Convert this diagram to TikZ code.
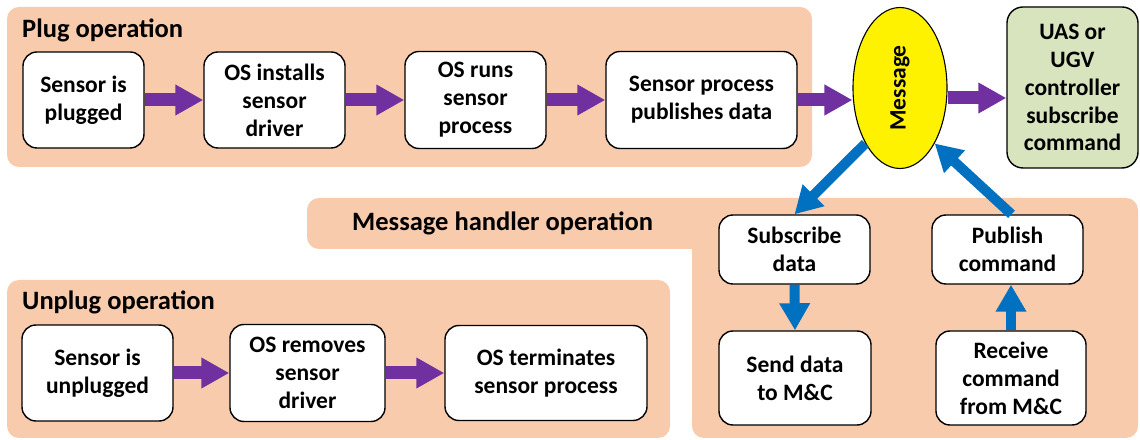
\documentclass[tikz,border=0pt]{standalone}
\usepackage{fontspec}
\usepackage{graphicx}
\setmainfont{Carlito}
\usetikzlibrary{arrows.meta,shapes.geometric}

\definecolor{panel}{HTML}{F8CBAD}
\definecolor{flowpurple}{HTML}{7030A0}
\definecolor{flowblue}{HTML}{0070C0}
\definecolor{ctrlgreen}{HTML}{D7E4BD}

\begin{document}
\begin{tikzpicture}[x=1bp,y=-1bp,
  box/.style={draw=black, line width=1.4bp, fill=white, rounded corners=14bp,
    align=center, inner sep=0pt, font=\fontsize{23.6}{28}\selectfont\bfseries},
  title/.style={anchor=base west, inner sep=0pt,
    font=\fontsize{26.6}{31}\selectfont\bfseries},
  purplearrow/.style={draw=flowpurple, line width=13bp,
    -{Triangle[length=28bp,width=29bp]}},
  bluearrow/.style={draw=flowblue, line width=10bp,
    -{Triangle[length=27bp,width=29bp]}},
]
\fill[white] (0,0) rectangle (1140,440);
\useasboundingbox (0,0) rectangle (1140,440);

% group panels
\fill[panel, rounded corners=12bp] (7,7) rectangle (812,167);
\fill[panel, rounded corners=12bp] (7,280) rectangle (670,438);
\fill[panel] (692,249) [rounded corners=12bp] -- (307,249) -- (307,198)
  -- (1138,198) -- (1138,438) -- (692,438) -- (692,249);

\node[title] (tplug) at (22,37.5) {Plug operation};
\node[title] (tunplug) at (22,310) {Unplug operation};
\node[title] (thandler) at (352,230.5) {Message handler operation};

% plug operation
\node[box, minimum width=121bp, minimum height=96bp] (p1) at (83.5,100) {Sensor is\\plugged};
\node[box, minimum width=141bp, minimum height=96bp] (p2) at (274.5,100) {OS installs\\sensor\\driver};
\node[box, minimum width=141bp, minimum height=97bp] (p3) at (475.5,100) {OS runs\\sensor\\process};
\node[box, minimum width=191bp, minimum height=97bp] (p4) at (701.5,100) {Sensor process\\publishes data};

% message bus and controller
\node[draw=black, line width=1.1bp, fill=yellow, ellipse, inner sep=0pt,
  minimum width=94bp, minimum height=161bp,
  font=\fontsize{23.6}{28}\selectfont\bfseries] (msg) at (900,88) {\rotatebox{90}{Message}};
\node[box, fill=ctrlgreen, rounded corners=16bp, minimum width=131bp, minimum height=161bp]
  (uas) at (1072.5,87.5) {UAS or\\UGV\\controller\\subscribe\\command};

% message handler
\node[box, minimum width=151bp, minimum height=69bp] (sub) at (794.5,249.5) {Subscribe\\data};
\node[box, minimum width=151bp, minimum height=69bp] (pub) at (1007.5,249.5) {Publish\\command};
\node[box, minimum width=152bp, minimum height=94bp] (send) at (795,378) {Send data\\to M\&C};
\node[box, minimum width=150bp, minimum height=94bp] (recv) at (1011,378) {Receive\\command\\from M\&C};

% unplug operation
\node[box, minimum width=151bp, minimum height=96bp] (u1) at (97.5,373) {Sensor is\\unplugged};
\node[box, minimum width=155bp, minimum height=97bp] (u2) at (307.5,373) {OS removes\\sensor\\driver};
\node[box, minimum width=202bp, minimum height=95bp] (u3) at (546,373) {OS terminates\\sensor process};

% purple flow
\draw[purplearrow] (p1.east) -- (p2.west);
\draw[purplearrow] (p2.east) -- (p3.west);
\draw[purplearrow] (p3.east) -- (p4.west);
\draw[purplearrow] (p4.east) -- (p4.east -| msg.west);
\draw[purplearrow] ([yshift=-10bp]msg.east) -- ([yshift=-10bp]msg.east -| uas.west);
\draw[purplearrow] (u1.east) -- (u2.west);
\draw[purplearrow] (u2.east) -- (u3.west);

% blue flow
\draw[bluearrow] (msg.238) -- (sub.north);
\draw[bluearrow] (sub.south) -- (send.north);
\draw[bluearrow] (recv.north) -- (recv.north |- pub.south);
\draw[bluearrow] ([xshift=4bp]pub.north) -- (msg.-58);
\end{tikzpicture}
\end{document}
